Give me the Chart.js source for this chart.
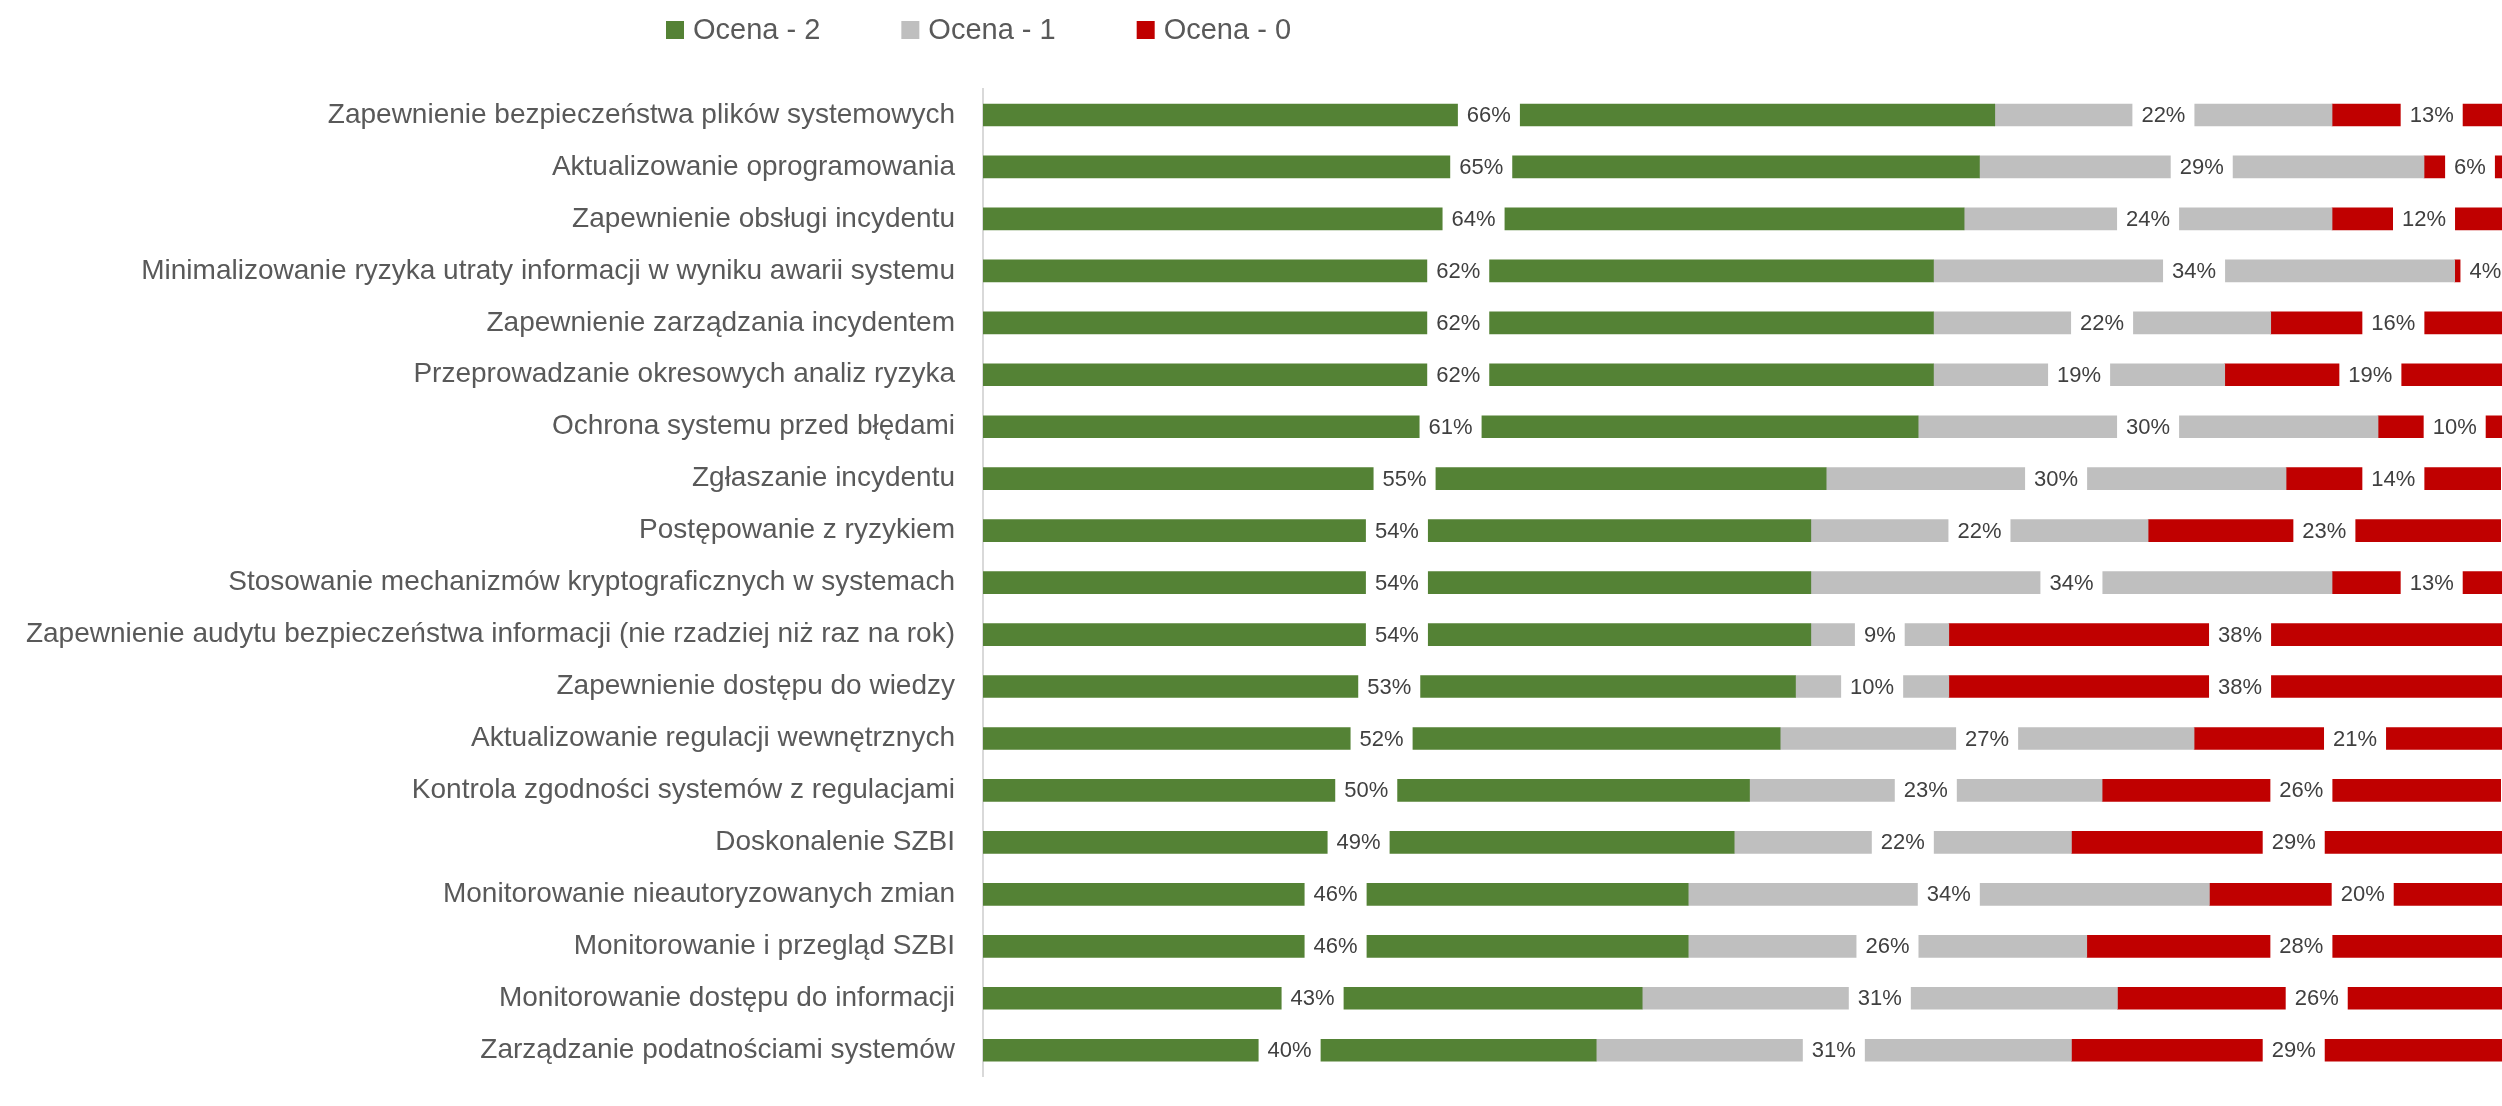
<!DOCTYPE html>
<html lang="pl">
<head>
    <meta charset="UTF-8">
    <title>Ocena</title>
    <script src="https://cdn.jsdelivr.net/npm/chart.js"></script>
    <style>
        html, body { margin: 0; padding: 0; overflow: hidden; background: #fff; }
    </style>
</head>
<body>
    <canvas id="myChart" width="2516" height="1121"></canvas>

    <script>
        // kategorie (os Y)
        const categories = [
            'Zapewnienie bezpieczeństwa plików systemowych',
            'Aktualizowanie oprogramowania',
            'Zapewnienie obsługi incydentu',
            'Minimalizowanie ryzyka utraty informacji w wyniku awarii systemu',
            'Zapewnienie zarządzania incydentem',
            'Przeprowadzanie okresowych analiz ryzyka',
            'Ochrona systemu przed błędami',
            'Zgłaszanie incydentu',
            'Postępowanie z ryzykiem',
            'Stosowanie mechanizmów kryptograficznych w systemach',
            'Zapewnienie audytu bezpieczeństwa informacji (nie rzadziej niż raz na rok)',
            'Zapewnienie dostępu do wiedzy',
            'Aktualizowanie regulacji wewnętrznych',
            'Kontrola zgodności systemów z regulacjami',
            'Doskonalenie SZBI',
            'Monitorowanie nieautoryzowanych zmian',
            'Monitorowanie i przegląd SZBI',
            'Monitorowanie dostępu do informacji',
            'Zarządzanie podatnościami systemów'
        ];

        // wartosci w %
        const ocena2 = [66, 65, 64, 62, 62, 62, 61, 55, 54, 54, 54, 53, 52, 50, 49, 46, 46, 43, 40];
        const ocena1 = [22, 29, 24, 34, 22, 19, 30, 30, 22, 34, 9, 10, 27, 23, 22, 34, 26, 31, 31];
        const ocena0 = [13, 6, 12, 4, 16, 19, 10, 14, 23, 13, 38, 38, 21, 26, 29, 20, 28, 26, 29];

        const seriesNames = ['Ocena - 2', 'Ocena - 1', 'Ocena - 0'];
        const seriesColors = ['#548235', '#BFBFBF', '#C00000'];

        const FONT = "'Liberation Sans', Arial, sans-serif";

        // etykiety na srodku slupka, z bialym tlem (jak w Excelu)
        const barLabels = {
            id: 'barLabels',
            afterDatasetsDraw(chart) {
                const ctx = chart.ctx;
                ctx.save();
                ctx.font = '22px ' + FONT;
                ctx.textAlign = 'center';
                ctx.textBaseline = 'middle';
                chart.data.datasets.forEach((ds, i) => {
                    const meta = chart.getDatasetMeta(i);
                    meta.data.forEach((bar, j) => {
                        const p = bar.getProps(['x', 'base', 'y', 'height'], true);
                        const cx = (p.x + p.base) / 2;
                        const txt = ds.data[j] + '%';
                        const w = ctx.measureText(txt).width;
                        ctx.fillStyle = '#fff';
                        ctx.fillRect(cx - w / 2 - 9, p.y - p.height / 2 - 2, w + 18, p.height + 4);
                        ctx.fillStyle = '#404040';
                        ctx.fillText(txt, cx, p.y + 1);
                    });
                });
                ctx.restore();
            }
        };

        // legenda rysowana recznie (pozycja jak w oryginale)
        const topLegend = {
            id: 'topLegend',
            afterDraw(chart) {
                const ctx = chart.ctx;
                ctx.save();
                ctx.font = '29px ' + FONT;
                ctx.textAlign = 'left';
                ctx.textBaseline = 'middle';
                let x = 666;
                const y = 30;
                chart.data.datasets.forEach(ds => {
                    ctx.fillStyle = ds.backgroundColor;
                    ctx.fillRect(x, y - 9, 18, 18);
                    ctx.fillStyle = '#595959';
                    ctx.fillText(ds.label, x + 27, y + 1);
                    x += 27 + ctx.measureText(ds.label).width + 81;
                });
                ctx.restore();
            }
        };

        const data = {
            labels: categories,
            datasets: [ocena2, ocena1, ocena0].map((vals, i) => ({
                label: seriesNames[i],
                data: vals,
                backgroundColor: seriesColors[i],
                borderWidth: 0,
                barThickness: 22
            }))
        };

        const options = {
            indexAxis: 'y',
            responsive: false,
            animation: false,
            layout: { padding: { top: 89, left: 0, right: 0, bottom: 0 } },
            plugins: {
                legend: { display: false },
                tooltip: { enabled: false }
            },
            scales: {
                x: {
                    stacked: true,
                    min: 0,
                    max: 100,
                    display: false
                },
                y: {
                    stacked: true,
                    grid: { display: false, drawTicks: false },
                    border: { display: true, color: '#D9D9D9', width: 2 },
                    ticks: {
                        color: '#595959',
                        font: { family: FONT, size: 28 },
                        padding: 28
                    },
                    afterFit(scale) { scale.width = 983; }
                }
            }
        };

        new Chart(document.getElementById('myChart'), {
            type: 'bar',
            data: data,
            options: options,
            plugins: [barLabels, topLegend]
        });
    </script>
</body>
</html>
